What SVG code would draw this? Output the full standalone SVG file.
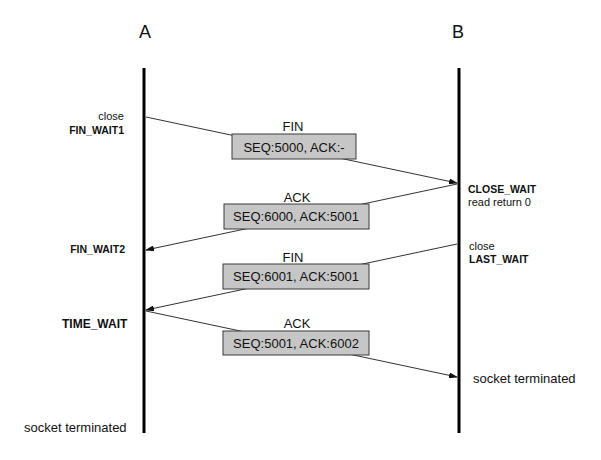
<svg xmlns="http://www.w3.org/2000/svg" width="601" height="460" viewBox="0 0 601 460">
<defs>
<marker id="arr" markerWidth="9" markerHeight="6" refX="8" refY="3" orient="auto" markerUnits="userSpaceOnUse">
<path d="M0,0 L9,3 L0,6 Z" fill="#111"/>
</marker>
<style>
text{font-family:"Liberation Sans",Arial,sans-serif;fill:#111}
.head{font-size:18px;text-anchor:middle}
.st{font-size:11px}
.stb{font-size:10.5px;font-weight:bold}
.lbl{font-size:13px;text-anchor:middle}
.box{fill:#c6c6c6;stroke:#3a3a3a;stroke-width:1}
.msg{stroke:#333;stroke-width:1;fill:none;marker-end:url(#arr)}
.life{stroke:#000;stroke-width:3}
.r{text-anchor:end}
</style>
</defs>
<rect width="601" height="460" fill="#fff"/>
<g id="A">
<text class="head" x="145" y="38">A</text>
<line class="life" x1="144" y1="68" x2="144" y2="433"/>
<text class="st r" x="124" y="120">close</text>
<text class="stb r" x="124" y="134">FIN_WAIT1</text>
<text class="stb r" x="125" y="253">FIN_WAIT2</text>
<text x="62" y="328" style="font-size:12px;font-weight:bold">TIME_WAIT</text>
<text x="24" y="432" style="font-size:13px">socket terminated</text>
</g>
<g id="B">
<text class="head" x="458" y="38">B</text>
<line class="life" x1="459" y1="68" x2="459" y2="433"/>
<text class="stb" x="468" y="193">CLOSE_WAIT</text>
<text class="st" x="468" y="206">read return 0</text>
<text class="st" x="469" y="250">close</text>
<text class="stb" x="469" y="263">LAST_WAIT</text>
<text x="473" y="383" style="font-size:13px">socket terminated</text>
</g>
<g id="connectors">
<line class="msg" x1="146" y1="117" x2="457" y2="183"/>
<line class="msg" x1="457" y1="184" x2="146" y2="250"/>
<line class="msg" x1="457" y1="244" x2="146" y2="310"/>
<line class="msg" x1="146" y1="311" x2="457" y2="377"/>
</g>
<g id="msg1">
<text class="lbl" x="293" y="131">FIN</text>
<rect class="box" x="232" y="134" width="124" height="25"/>
<text class="lbl" x="294" y="152">SEQ:5000, ACK:-</text>
</g>
<g id="msg2">
<text class="lbl" x="297" y="202">ACK</text>
<rect class="box" x="224" y="204" width="145" height="25"/>
<text class="lbl" x="296" y="221">SEQ:6000, ACK:5001</text>
</g>
<g id="msg3">
<text class="lbl" x="293" y="262">FIN</text>
<rect class="box" x="223" y="264" width="146" height="25"/>
<text class="lbl" x="296" y="281">SEQ:6001, ACK:5001</text>
</g>
<g id="msg4">
<text class="lbl" x="297" y="328">ACK</text>
<rect class="box" x="223" y="331" width="146" height="24"/>
<text class="lbl" x="296" y="348">SEQ:5001, ACK:6002</text>
</g>
</svg>
